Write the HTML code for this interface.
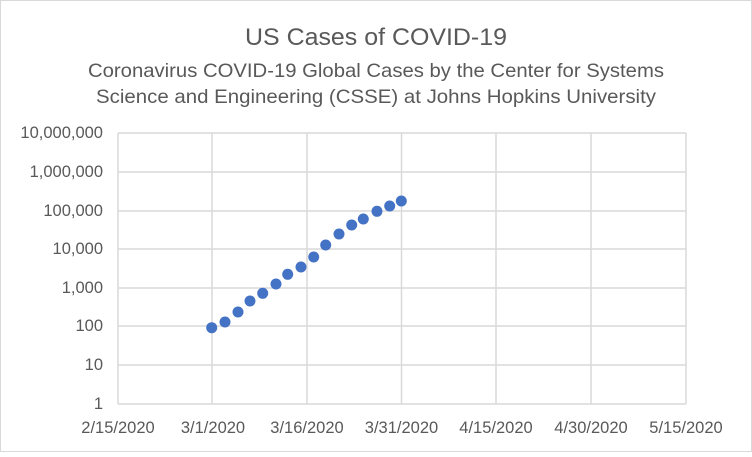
<!DOCTYPE html>
<html><head><style>body{margin:0;background:#fff}svg text{font-family:"Liberation Sans",sans-serif;fill:#595959}</style></head><body>
<svg width="752" height="452" xmlns="http://www.w3.org/2000/svg">
<rect x="0.5" y="0.5" width="751" height="451" fill="#fff" stroke="#d9d9d9"/>
<text x="376" y="45" font-size="24" text-anchor="middle" textLength="262" lengthAdjust="spacingAndGlyphs">US  Cases of COVID-19</text>
<text x="376" y="77" font-size="19.5" text-anchor="middle" textLength="576" lengthAdjust="spacingAndGlyphs">Coronavirus COVID-19 Global Cases by the Center for Systems</text>
<text x="376" y="103" font-size="19.5" text-anchor="middle" textLength="560" lengthAdjust="spacingAndGlyphs">Science and Engineering (CSSE) at Johns Hopkins University</text>
<g stroke="#d9d9d9" stroke-width="1.5">
<line x1="118" y1="133" x2="686" y2="133"/><line x1="118" y1="172" x2="686" y2="172"/><line x1="118" y1="211" x2="686" y2="211"/><line x1="118" y1="249" x2="686" y2="249"/><line x1="118" y1="288" x2="686" y2="288"/><line x1="118" y1="326" x2="686" y2="326"/><line x1="118" y1="365" x2="686" y2="365"/><line x1="118" y1="404" x2="686" y2="404"/>
<line x1="118" y1="133" x2="118" y2="404"/><line x1="212" y1="133" x2="212" y2="404"/><line x1="307" y1="133" x2="307" y2="404"/><line x1="401.5" y1="133" x2="401.5" y2="404"/><line x1="496" y1="133" x2="496" y2="404"/><line x1="591" y1="133" x2="591" y2="404"/><line x1="686" y1="133" x2="686" y2="404"/>
</g>
<g font-size="16.5" text-anchor="end">
<text x="103" y="138">10,000,000</text><text x="103" y="177">1,000,000</text><text x="103" y="216">100,000</text><text x="103" y="254">10,000</text><text x="103" y="293">1,000</text><text x="103" y="331">100</text><text x="103" y="370">10</text><text x="103" y="409">1</text>
</g>
<g font-size="16.5" text-anchor="middle">
<text x="118" y="433">2/15/2020</text><text x="213" y="433">3/1/2020</text><text x="307" y="433">3/16/2020</text><text x="401.5" y="433">3/31/2020</text><text x="496" y="433">4/15/2020</text><text x="591" y="433">4/30/2020</text><text x="686" y="433">5/15/2020</text>
</g>
<g fill="#4472c4">
<circle cx="211.7" cy="327.7" r="5.5"/><circle cx="225" cy="322" r="5.5"/><circle cx="238" cy="312" r="5.5"/><circle cx="250" cy="301" r="5.5"/><circle cx="262.7" cy="293.3" r="5.5"/><circle cx="276" cy="284" r="5.5"/><circle cx="287.7" cy="274.3" r="5.5"/><circle cx="301" cy="267" r="5.5"/><circle cx="313.7" cy="257" r="5.5"/><circle cx="325.7" cy="245" r="5.5"/><circle cx="339" cy="234" r="5.5"/><circle cx="351.7" cy="225" r="5.5"/><circle cx="363.3" cy="219" r="5.5"/><circle cx="377" cy="211.3" r="5.5"/><circle cx="389.7" cy="206" r="5.5"/><circle cx="401.3" cy="201" r="5.5"/>
</g>
</svg>
</body></html>
